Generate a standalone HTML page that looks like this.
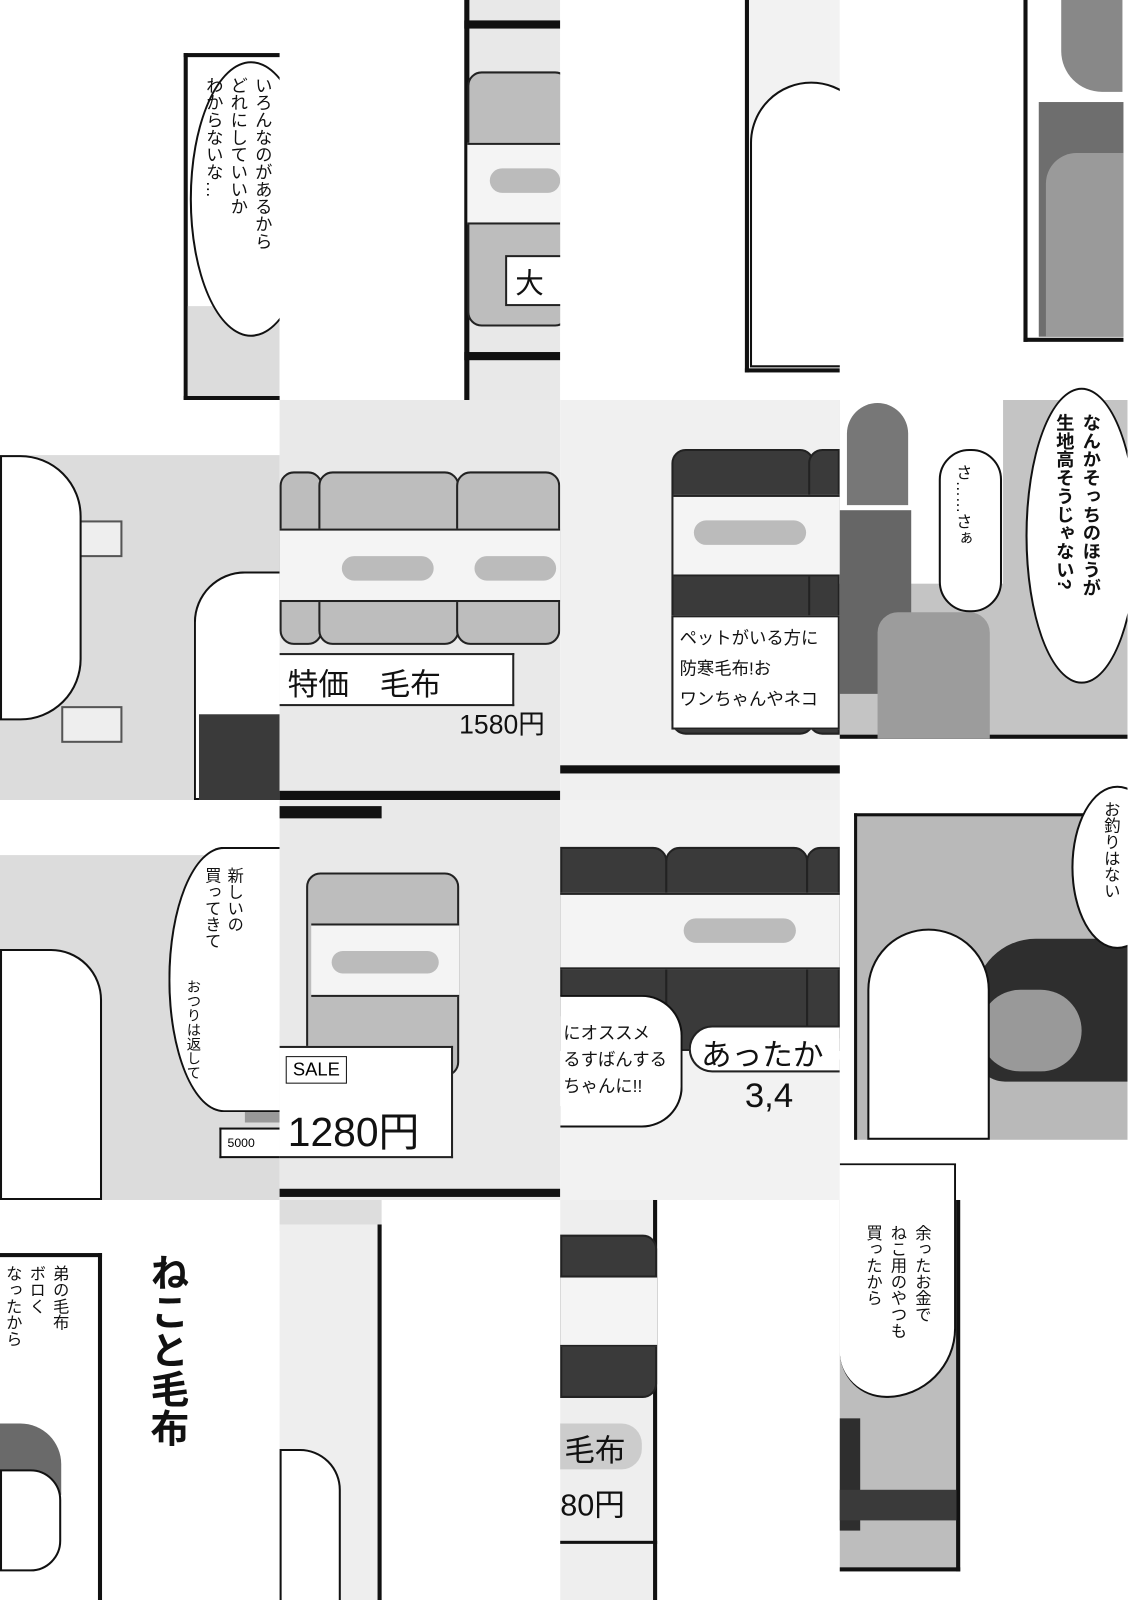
<!DOCTYPE html>
<html><head><meta charset="utf-8"><style>
body{margin:0;width:1128px;height:1600px;background:#fff;position:relative;overflow:hidden;font-family:"Liberation Sans","Noto Sans CJK JP",sans-serif}
#w{position:absolute;left:0;top:0;width:1105px;height:1568px;transform:scale(1.0204);transform-origin:0 0;overflow:hidden}
#w div{position:absolute;box-sizing:border-box}
.v{writing-mode:vertical-rl;color:#111}
.g{background:#bdbdbd}
.lg{background:#dcdcdc}
.dk{background:#3a3a3a}
.b{border:4px solid #111}
.bub{background:#fff;border:2px solid #111;border-radius:50%}
.roll{border:2px solid #222;border-radius:14px}
.band{background:#f4f4f4;border-top:2px solid #222;border-bottom:2px solid #222}
.pill{background:#bbb;border-radius:12px}
.lab{background:#fff;border:2px solid #222;font-size:30px;color:#111;padding:4px 8px}
</style></head><body><div id="w">

<!-- Row 0 -->
<div class="b" style="left:180px;top:52px;width:100px;height:340px;border-right:none"></div>
<div class="lg" style="left:184px;top:300px;width:90px;height:88px"></div>
<div class="bub" style="left:186px;top:60px;width:120px;height:270px"></div>
<div class="v" style="left:196px;top:75px;height:240px;font-size:17px;line-height:24px">いろんなのがあるから<br>どれにしていいか<br>わからないな…</div>
<div style="left:274px;top:0;width:181px;height:392px;background:#fff"></div>

<div style="left:455px;top:0;width:94px;height:392px;background:#e8e8e8;border-left:5px solid #111"></div>
<div style="left:455px;top:20px;width:94px;height:8px;background:#111"></div>
<div class="g roll" style="left:458px;top:70px;width:100px;height:250px"></div>
<div class="band" style="left:458px;top:140px;width:91px;height:80px"></div>
<div class="pill" style="left:480px;top:165px;width:69px;height:24px"></div>
<div class="lab" style="left:495px;top:250px;width:60px;height:50px;font-size:28px">大</div>
<div style="left:455px;top:345px;width:94px;height:8px;background:#111"></div>
<div style="left:549px;top:0;width:181px;height:392px;background:#fff"></div>

<div style="left:730px;top:0;width:93px;height:365px;border-left:4px solid #111;border-bottom:4px solid #111;background:#f2f2f2"></div>
<div style="left:735px;top:80px;width:120px;height:280px;background:#fff;border:2px solid #111;border-radius:60px 60px 0 0"></div>
<div style="left:823px;top:0;width:180px;height:392px;background:#fff"></div>

<div style="left:1003px;top:0;width:98px;height:335px;border-left:4px solid #111;border-bottom:4px solid #111;background:#fff"></div>
<div style="left:1040px;top:0;width:60px;height:90px;background:#888;border-radius:0 0 0 40px"></div>
<div style="left:1018px;top:100px;width:83px;height:230px;background:#6e6e6e"></div>
<div style="left:1025px;top:150px;width:76px;height:180px;background:#9a9a9a;border-radius:30px 0 0 0"></div>

<!-- Row 1 -->
<div class="lg" style="left:0;top:446px;width:274px;height:338px"></div>
<div style="left:60px;top:510px;width:60px;height:36px;border:2px solid #555;background:#eee"></div>
<div style="left:60px;top:692px;width:60px;height:36px;border:2px solid #555;background:#eee"></div>
<div style="left:0;top:446px;width:80px;height:260px;background:#fff;border:2px solid #111;border-radius:0 60px 60px 0"></div>
<div style="left:190px;top:560px;width:84px;height:224px;background:#fff;border:2px solid #111;border-right:none;border-radius:50px 0 0 0"></div>
<div class="dk" style="left:195px;top:700px;width:79px;height:84px"></div>

<div style="left:274px;top:392px;width:275px;height:392px;background:#e9e9e9"></div>
<div class="g roll" style="left:274px;top:462px;width:42px;height:170px"></div>
<div class="g roll" style="left:312px;top:462px;width:138px;height:170px"></div>
<div class="g roll" style="left:447px;top:462px;width:102px;height:170px"></div>
<div class="band" style="left:274px;top:518px;width:275px;height:72px"></div>
<div class="pill" style="left:335px;top:545px;width:90px;height:24px"></div>
<div class="pill" style="left:465px;top:545px;width:80px;height:24px"></div>
<div class="lab" style="left:274px;top:640px;width:230px;height:52px;border-left:none">特価　毛布</div>
<div style="left:450px;top:690px;font-size:26px;color:#111">1580円</div>
<div style="left:274px;top:775px;width:275px;height:9px;background:#111"></div>

<div style="left:549px;top:392px;width:274px;height:392px;background:#f0f0f0"></div>
<div class="dk roll" style="left:658px;top:440px;width:140px;height:280px"></div>
<div class="dk roll" style="left:792px;top:440px;width:31px;height:280px;border-radius:14px 0 0 14px"></div>
<div class="band" style="left:660px;top:485px;width:163px;height:80px"></div>
<div class="pill" style="left:680px;top:510px;width:110px;height:24px"></div>
<div class="lab" style="left:658px;top:603px;width:165px;height:112px;font-size:17px;line-height:30px;padding:6px">ペットがいる方に<br>防寒毛布!お<br>ワンちゃんやネコ</div>
<div style="left:549px;top:750px;width:274px;height:8px;background:#111"></div>

<div style="left:823px;top:392px;width:282px;height:332px;background:#c4c4c4;border-bottom:4px solid #111"></div>
<div style="left:823px;top:392px;width:160px;height:180px;background:#fff"></div>
<div style="left:830px;top:395px;width:60px;height:100px;background:#777;border-radius:40px 40px 0 0"></div>
<div style="left:823px;top:500px;width:70px;height:180px;background:#666"></div>
<div style="left:860px;top:600px;width:110px;height:124px;background:#9c9c9c;border-radius:20px 20px 0 0"></div>
<div class="bub" style="left:920px;top:440px;width:62px;height:160px;border-radius:30px"></div>
<div class="v" style="left:930px;top:455px;font-size:16px">さ……さぁ</div>
<div class="bub" style="left:1005px;top:380px;width:110px;height:290px"></div>
<div class="v" style="left:1030px;top:405px;font-size:18px;font-weight:bold;line-height:26px">なんかそっちのほうが<br>生地高そうじゃない?</div>

<!-- Row 2 -->
<div class="lg" style="left:0;top:838px;width:274px;height:338px"></div>
<div style="left:0;top:930px;width:100px;height:246px;background:#fff;border:2px solid #111;border-radius:0 50px 0 0"></div>
<div style="left:240px;top:1010px;width:34px;height:90px;background:#999;border-radius:20px 0 0 0"></div>
<div class="bub" style="left:165px;top:830px;width:109px;height:260px;border-radius:50% 0 0 50%;border-right:none"></div>
<div class="v" style="left:195px;top:850px;font-size:16px;line-height:22px">新しいの<br>買ってきて</div>
<div class="v" style="left:180px;top:960px;font-size:14px">おつりは返して</div>
<div style="left:215px;top:1105px;width:59px;height:30px;background:#fff;border:2px solid #111;border-right:none;font-size:12px;padding:6px">5000</div>

<div style="left:274px;top:784px;width:275px;height:392px;background:#e9e9e9"></div>
<div style="left:274px;top:790px;width:100px;height:12px;background:#111"></div>
<div class="g roll" style="left:300px;top:855px;width:150px;height:200px"></div>
<div class="band" style="left:305px;top:905px;width:145px;height:72px"></div>
<div class="pill" style="left:325px;top:932px;width:105px;height:22px"></div>
<div class="lab" style="left:274px;top:1025px;width:170px;height:110px;border-left:none;font-size:40px;padding-top:50px">1280円</div>
<div style="left:280px;top:1035px;font-size:18px;border:1px solid #111;padding:2px 6px;background:#fff">SALE</div>
<div style="left:274px;top:1165px;width:275px;height:8px;background:#111"></div>

<div style="left:549px;top:784px;width:274px;height:392px;background:#f2f2f2"></div>
<div class="dk roll" style="left:549px;top:830px;width:105px;height:200px;border-radius:0 14px 14px 0"></div>
<div class="dk roll" style="left:652px;top:830px;width:140px;height:200px"></div>
<div class="dk roll" style="left:790px;top:830px;width:33px;height:200px;border-radius:14px 0 0 14px"></div>
<div class="band" style="left:549px;top:875px;width:274px;height:75px"></div>
<div class="pill" style="left:670px;top:900px;width:110px;height:24px"></div>
<div class="lab" style="left:675px;top:1005px;width:148px;height:46px;border-radius:24px 0 0 24px;border-right:none;padding:2px 10px">あったか</div>
<div style="left:730px;top:1055px;font-size:34px;color:#111">3,4</div>
<div class="bub" style="left:549px;top:975px;width:120px;height:130px;border-radius:0 40px 40px 0;border-left:none"></div>
<div style="left:552px;top:1000px;font-size:17px;line-height:26px;color:#111">にオススメ<br>るすばんする<br>ちゃんに!!</div>

<div style="left:837px;top:797px;width:268px;height:320px;background:#b9b9b9;border-left:3px solid #111;border-top:3px solid #111"></div>
<div style="left:955px;top:920px;width:150px;height:140px;background:#2e2e2e;border-radius:60px 0 0 30px"></div>
<div style="left:960px;top:970px;width:100px;height:80px;background:#999;border-radius:40px"></div>
<div style="left:850px;top:910px;width:120px;height:207px;background:#fff;border:2px solid #111;border-radius:60px 60px 0 0"></div>
<div class="bub" style="left:1050px;top:770px;width:90px;height:160px"></div>
<div class="v" style="left:1075px;top:785px;font-size:16px">お釣りはない</div>

<!-- Row 3 -->
<div class="v" style="left:135px;top:1228px;font-size:38px;font-weight:bold">ねこと毛布</div>
<div style="left:0;top:1228px;width:100px;height:372px;border-right:4px solid #111;border-top:4px solid #111"></div>
<div class="v" style="left:0;top:1240px;font-size:16px;line-height:23px">弟の毛布<br>ボロく<br>なったから</div>
<div style="left:0;top:1395px;width:60px;height:70px;background:#6a6a6a;border-radius:0 40px 0 0"></div>
<div style="left:0;top:1440px;width:60px;height:100px;background:#fff;border:2px solid #111;border-radius:0 30px 30px 0"></div>

<div style="left:274px;top:1176px;width:100px;height:30px;background:#ddd"></div>
<div style="left:274px;top:1200px;width:100px;height:400px;background:#eee;border-right:4px solid #111"></div>
<div style="left:274px;top:1420px;width:60px;height:180px;background:#fff;border:2px solid #111;border-radius:0 40px 0 0"></div>

<div style="left:549px;top:1176px;width:95px;height:424px;background:#eee;border-right:4px solid #111"></div>
<div class="dk roll" style="left:549px;top:1210px;width:95px;height:160px;border-radius:0 14px 14px 0"></div>
<div class="band" style="left:549px;top:1250px;width:95px;height:70px"></div>
<div class="lab" style="left:549px;top:1395px;width:80px;height:45px;border:none;background:#ccc;border-radius:0 20px 20px 0;padding:2px 4px">毛布</div>
<div style="left:549px;top:1450px;font-size:30px;color:#111">80円</div>
<div style="left:549px;top:1510px;width:95px;height:3px;background:#111"></div>

<div style="left:823px;top:1176px;width:118px;height:364px;background:#bdbdbd;border-right:4px solid #111;border-bottom:4px solid #111"></div>
<div style="left:823px;top:1390px;width:20px;height:110px;background:#2e2e2e"></div>
<div style="left:823px;top:1460px;width:114px;height:30px;background:#3a3a3a"></div>
<div class="bub" style="left:823px;top:1140px;width:114px;height:230px;border-radius:0 0 90px 60px;border-left:none"></div>
<div class="v" style="left:842px;top:1200px;font-size:16px;line-height:24px">余ったお金で<br>ねこ用のやつも<br>買ったから</div>

</div></body></html>
